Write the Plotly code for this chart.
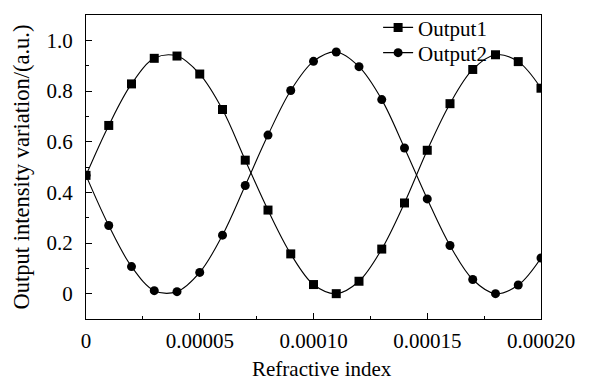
import plotly.graph_objects as go

x_vals = [i * 1e-5 for i in range(21)]
output1 = [0.467, 0.664, 0.828, 0.929, 0.938, 0.867, 0.727, 0.527, 0.330, 0.157, 0.036,
           0.0, 0.049, 0.176, 0.358, 0.566, 0.750, 0.885, 0.943, 0.916, 0.811]
output2 = [0.467, 0.269, 0.107, 0.012, 0.008, 0.084, 0.231, 0.427, 0.626, 0.802, 0.917,
           0.954, 0.896, 0.766, 0.575, 0.374, 0.190, 0.056, 0.0, 0.034, 0.141]

x_tickvals = [0, 0.00005, 0.0001, 0.00015, 0.0002]
x_ticktext = ["0", "0.00005", "0.00010", "0.00015", "0.00020"]
y_tickvals = [0, 0.2, 0.4, 0.6, 0.8, 1.0]
y_ticktext = ["0", "0.2", "0.4", "0.6", "0.8", "1.0"]

font_family = "Liberation Serif"

fig = go.Figure()
fig.add_trace(go.Scatter(
    x=x_vals, y=output1, name="Output1", mode="lines+markers", legend="legend",
    line=dict(color="black", width=1.1, shape="spline", smoothing=1.0),
    marker=dict(symbol="square", size=9, color="black"),
))
fig.add_trace(go.Scatter(
    x=x_vals, y=output2, name="Output2", mode="lines+markers", legend="legend2",
    line=dict(color="black", width=1.1, shape="spline", smoothing=1.0),
    marker=dict(symbol="circle", size=9, color="black"),
))

axis_common = dict(
    showline=True, linecolor="black", linewidth=1, mirror=True,
    showgrid=False, zeroline=False, ticks="inside", ticklen=6, tickwidth=1,
    tickcolor="black", tickfont=dict(family=font_family, size=21, color="black"),
)

fig.update_xaxes(
    range=[0, 0.0002], tickvals=x_tickvals, ticktext=x_ticktext,
    minor=dict(ticks="inside", ticklen=3, dtick=0.000025, tick0=0, tickcolor="black"),
    ticklabelstandoff=3,
    **axis_common,
)
fig.update_yaxes(
    range=[-0.1, 1.1], tickvals=y_tickvals, ticktext=y_ticktext,
    minor=dict(ticks="inside", ticklen=3, dtick=0.1, tick0=0, tickcolor="black"),
    title=dict(text="Output intensity variation/(a.u.)", font=dict(family=font_family, size=22.5, color="black"), standoff=10),
    ticklabelstandoff=8,
    **axis_common,
)

fig.add_annotation(
    text="Refractive index", xref="paper", yref="paper", x=0.519, y=-0.165,
    xanchor="center", yanchor="middle", showarrow=False,
    font=dict(family=font_family, size=21, color="black"),
)

legend_common = dict(xanchor="left", yanchor="middle", bgcolor="rgba(0,0,0,0)",
                     font=dict(family=font_family, size=21, color="black"))
fig.update_layout(
    width=594, height=385,
    margin=dict(l=86, r=53, t=7, b=66),
    paper_bgcolor="white", plot_bgcolor="white",
    showlegend=True,
    legend=dict(x=0.642, y=0.958, **legend_common),
    legend2=dict(x=0.642, y=0.875, **legend_common),
)

fig.write_html("out.html")
